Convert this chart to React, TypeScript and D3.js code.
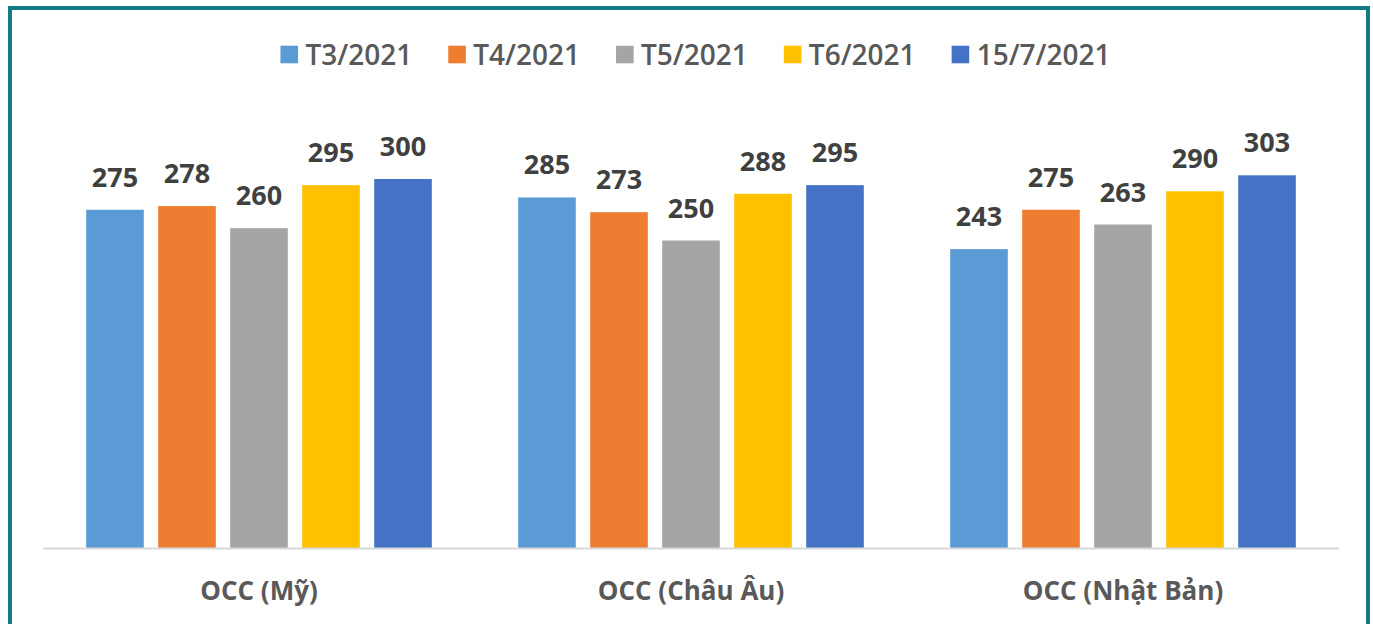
import React, { useEffect, useRef } from 'react';
import * as d3 from 'd3';

// dữ liệu
const categories = ['OCC (Mỹ)', 'OCC (Châu Âu)', 'OCC (Nhật Bản)'];
const seriesNames = ['T3/2021', 'T4/2021', 'T5/2021', 'T6/2021', '15/7/2021'];
const seriesColors = ['#5B9BD5', '#ED7D31', '#A5A5A5', '#FFC000', '#4472C4'];
const valuesT3 = [275, 285, 243];
const valuesT4 = [278, 273, 275];
const valuesT5 = [260, 250, 263];
const valuesT6 = [295, 288, 290];
const values157 = [300, 295, 303];
const seriesValues = [valuesT3, valuesT4, valuesT5, valuesT6, values157];
const yDomain = [0, 350];

export default function App() {
  const svgRef = useRef<SVGSVGElement>(null);

  const width = 1373;
  const height = 624;
  const plot = { left: 43, right: 1339, bottom: 548 };
  const font = "'Open Sans', 'DejaVu Sans', sans-serif";

  useEffect(() => {
    const svg = d3.select(svgRef.current);
    svg.selectAll('*').remove();

    svg.append('rect').attr('width', width).attr('height', height).attr('fill', '#fff');

    // khung viền
    svg
      .append('rect')
      .attr('x', 10)
      .attr('y', 8)
      .attr('width', 1358)
      .attr('height', 660)
      .attr('fill', 'none')
      .attr('stroke', '#137A86')
      .attr('stroke-width', 4);

    const x0 = d3
      .scaleBand()
      .domain(categories)
      .range([plot.left, plot.right])
      .paddingInner(0.2)
      .paddingOuter(0.1);

    const x1 = d3
      .scaleBand()
      .domain(seriesNames)
      .range([0, x0.bandwidth()])
      .paddingInner(0.2)
      .paddingOuter(0);

    const y = d3.scaleLinear().domain(yDomain).range([plot.bottom, plot.bottom - 350 * 1.23]);

    // cột
    seriesNames.forEach((name, si) => {
      const g = svg.append('g');
      g.selectAll('rect')
        .data(seriesValues[si])
        .enter()
        .append('rect')
        .attr('x', (d, i) => (x0(categories[i]) as number) + (x1(name) as number))
        .attr('y', (d) => y(d))
        .attr('width', x1.bandwidth())
        .attr('height', (d) => y(0) - y(d))
        .attr('fill', seriesColors[si]);

      g.selectAll('text')
        .data(seriesValues[si])
        .enter()
        .append('text')
        .text((d) => d)
        .attr('x', (d, i) => (x0(categories[i]) as number) + (x1(name) as number) + x1.bandwidth() / 2)
        .attr('y', (d) => y(d) - 23)
        .attr('text-anchor', 'middle')
        .attr('font-family', font)
        .attr('font-size', '27px')
        .attr('font-weight', 700)
        .attr('fill', '#404040');
    });

    // trục x
    svg
      .append('line')
      .attr('x1', plot.left)
      .attr('x2', plot.right)
      .attr('y1', plot.bottom + 0.5)
      .attr('y2', plot.bottom + 0.5)
      .attr('stroke', '#D9D9D9')
      .attr('stroke-width', 2);

    svg
      .append('g')
      .selectAll('text')
      .data(categories)
      .enter()
      .append('text')
      .text((d) => d)
      .attr('x', (d) => (x0(d) as number) + x0.bandwidth() / 2)
      .attr('y', 600)
      .attr('text-anchor', 'middle')
      .attr('font-family', font)
      .attr('font-size', '26px')
      .attr('font-weight', 700)
      .attr('fill', '#595959');

    // chú thích
    const legend = svg.append('g');
    const items = seriesNames.map((name, i) => {
      const item = legend.append('g');
      item
        .append('rect')
        .attr('width', 17.6)
        .attr('height', 17.6)
        .attr('y', 45.7)
        .attr('fill', seriesColors[i]);
      const t = item
        .append('text')
        .text(name)
        .attr('x', 25)
        .attr('y', 64.5)
        .attr('font-family', font)
        .attr('font-size', '28px')
        .attr('font-weight', 600)
        .attr('fill', '#595959');
      const len = (t.node() as SVGTextElement).getComputedTextLength();
      return { item, w: 25 + len };
    });
    const gap = 36;
    const total = d3.sum(items, (d) => d.w) + gap * (items.length - 1);
    let cx = 695.5 - total / 2;
    items.forEach((d) => {
      d.item.attr('transform', `translate(${cx},0)`);
      cx += d.w + gap;
    });
  }, []);

  return (
    <svg
      ref={svgRef}
      width={width}
      height={height}
      style={{ position: 'absolute', left: 0, top: 0, display: 'block' }}
    ></svg>
  );
}
